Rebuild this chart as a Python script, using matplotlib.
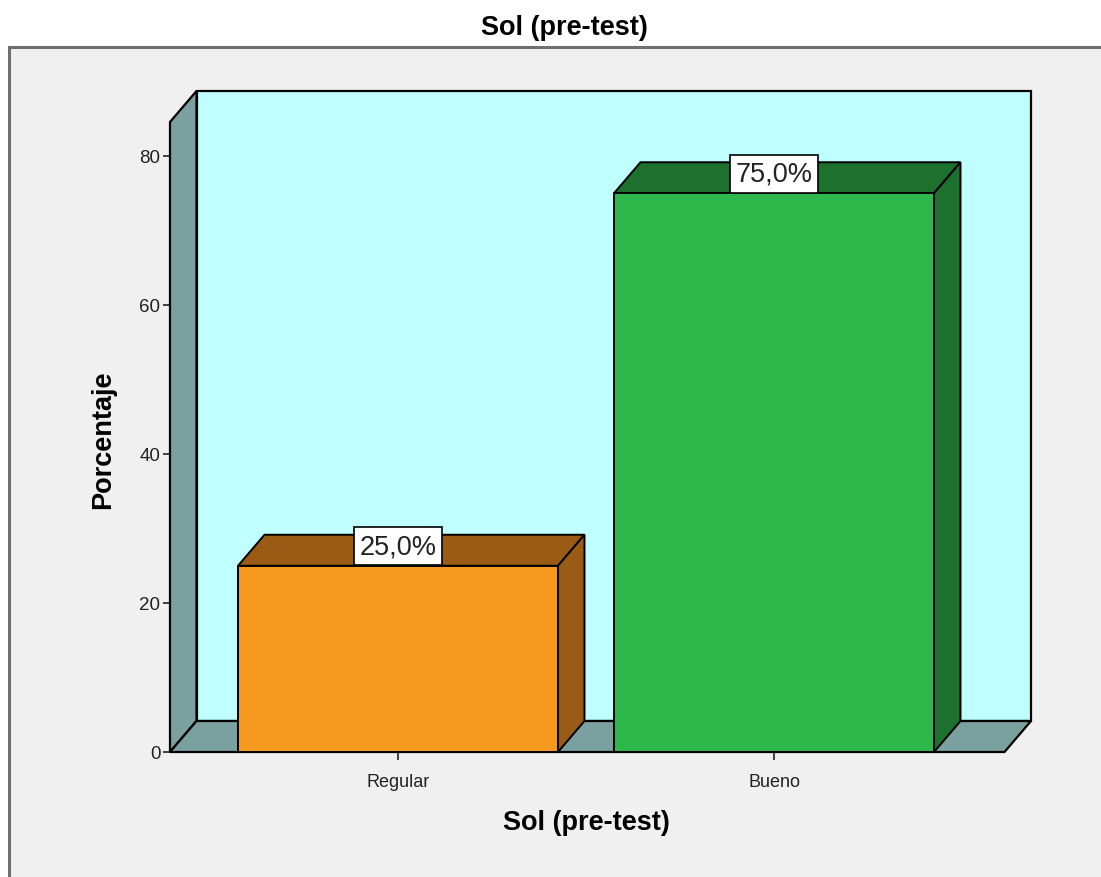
import matplotlib
matplotlib.use("Agg")
import matplotlib.pyplot as plt
from matplotlib.patches import Polygon, Rectangle

# data
categories = ["Regular", "Bueno"]
percentages = [25.0, 75.0]
bar_labels = ["25,0%", "75,0%"]
yticks = [0, 20, 40, 60, 80]

front_colors = ["#f7991f", "#2eb84b"]
dark_colors = ["#9a5c14", "#1e702f"]
wall_color = "#c0ffff"
floor_color = "#7aa19f"

plt.rcParams["font.family"] = ["Liberation Sans", "DejaVu Sans"]

W, H = 1101, 878
fig = plt.figure(figsize=(W / 100, H / 100), dpi=100)
fig.patch.set_facecolor("white")

# grey chart frame
fig.patches.append(Rectangle((9 / W, -0.01), 1.02, (H - 48) / H + 0.01,
                             transform=fig.transFigure, facecolor="#f0f0f0",
                             edgecolor="#707070", lw=2.2, zorder=-5))

# plot area in pixel terms
px_left, px_right, px_bottom, px_top = 170, 1031, 753, 92
px_per_unit = 7.45
px_per_cat = 376
cat0_px = 398
ax = fig.add_axes([px_left / W, (H - px_bottom) / H,
                   (px_right - px_left) / W, (px_bottom - px_top) / H])
ax.set_zorder(2)
ax.patch.set_visible(False)
x0 = (px_left - cat0_px) / px_per_cat
x1 = (px_right - cat0_px) / px_per_cat
ytop = (px_bottom - px_top) / px_per_unit
ax.set_xlim(x0, x1)
ax.set_ylim(0, ytop)

dx = 26.5 / px_per_cat
dy = 31 / px_per_unit
bar_w = 320 / px_per_cat

# back wall, left wall, floor
ax.add_patch(Polygon([(x0 + dx, dy), (x1, dy), (x1, ytop), (x0 + dx, ytop)],
                     closed=True, facecolor=wall_color, edgecolor="black", lw=1.6, zorder=1,
                     clip_on=False))
ax.add_patch(Polygon([(x0, 0), (x0 + dx, dy), (x0 + dx, ytop), (x0, ytop - dy)],
                     closed=True, facecolor=floor_color, edgecolor="black", lw=1.6, zorder=2,
                     clip_on=False))
ax.add_patch(Polygon([(x0, 0), (x1 - dx, 0), (x1, dy), (x0 + dx, dy)],
                     closed=True, facecolor=floor_color, edgecolor="black", lw=1.6, zorder=2,
                     clip_on=False))

xs = list(range(len(categories)))
for x, v, dc in zip(xs, percentages, dark_colors):
    l, r = x - bar_w / 2, x + bar_w / 2
    ax.add_patch(Polygon([(l, v), (l + dx, v + dy), (r + dx, v + dy), (r, v)],
                         closed=True, facecolor=dc, edgecolor="black", lw=1.4, zorder=3))
    ax.add_patch(Polygon([(r, 0), (r + dx, dy), (r + dx, v + dy), (r, v)],
                         closed=True, facecolor=dc, edgecolor="black", lw=1.4, zorder=3))

ax.bar(xs, percentages, width=bar_w, color=front_colors, edgecolor="black",
       lw=1.4, zorder=4, clip_on=False)

for x, v, lab in zip(xs, percentages, bar_labels):
    ax.text(x, v + 0.9, lab, ha="center", va="bottom", fontsize=19.5, color="#222222",
            zorder=6, bbox=dict(boxstyle="square,pad=0.22", facecolor="white",
                                edgecolor="black", lw=1.2))

for s in ax.spines.values():
    s.set_visible(False)
ax.set_yticks(yticks)
ax.set_yticklabels([str(t) for t in yticks])
ax.set_xticks(xs)
ax.set_xticklabels(categories)
ax.tick_params(axis="y", direction="out", length=5, width=1.2, labelsize=13.5, pad=2,
               colors="#222222")
ax.tick_params(axis="x", direction="out", length=6, width=1.2, labelsize=13, pad=9,
               colors="#222222")

fig.text(564 / W, 1 - 28 / H, "Sol (pre-test)", ha="center", va="center",
         fontsize=19.5, fontweight="bold")
fig.text(586 / W, 1 - 823 / H, "Sol (pre-test)", ha="center", va="center",
         fontsize=19.5, fontweight="bold")
fig.text(103 / W, 1 - 440 / H, "Porcentaje", ha="center", va="center",
         fontsize=19.5, fontweight="bold", rotation=90)

fig.savefig("out.png", dpi=100)
